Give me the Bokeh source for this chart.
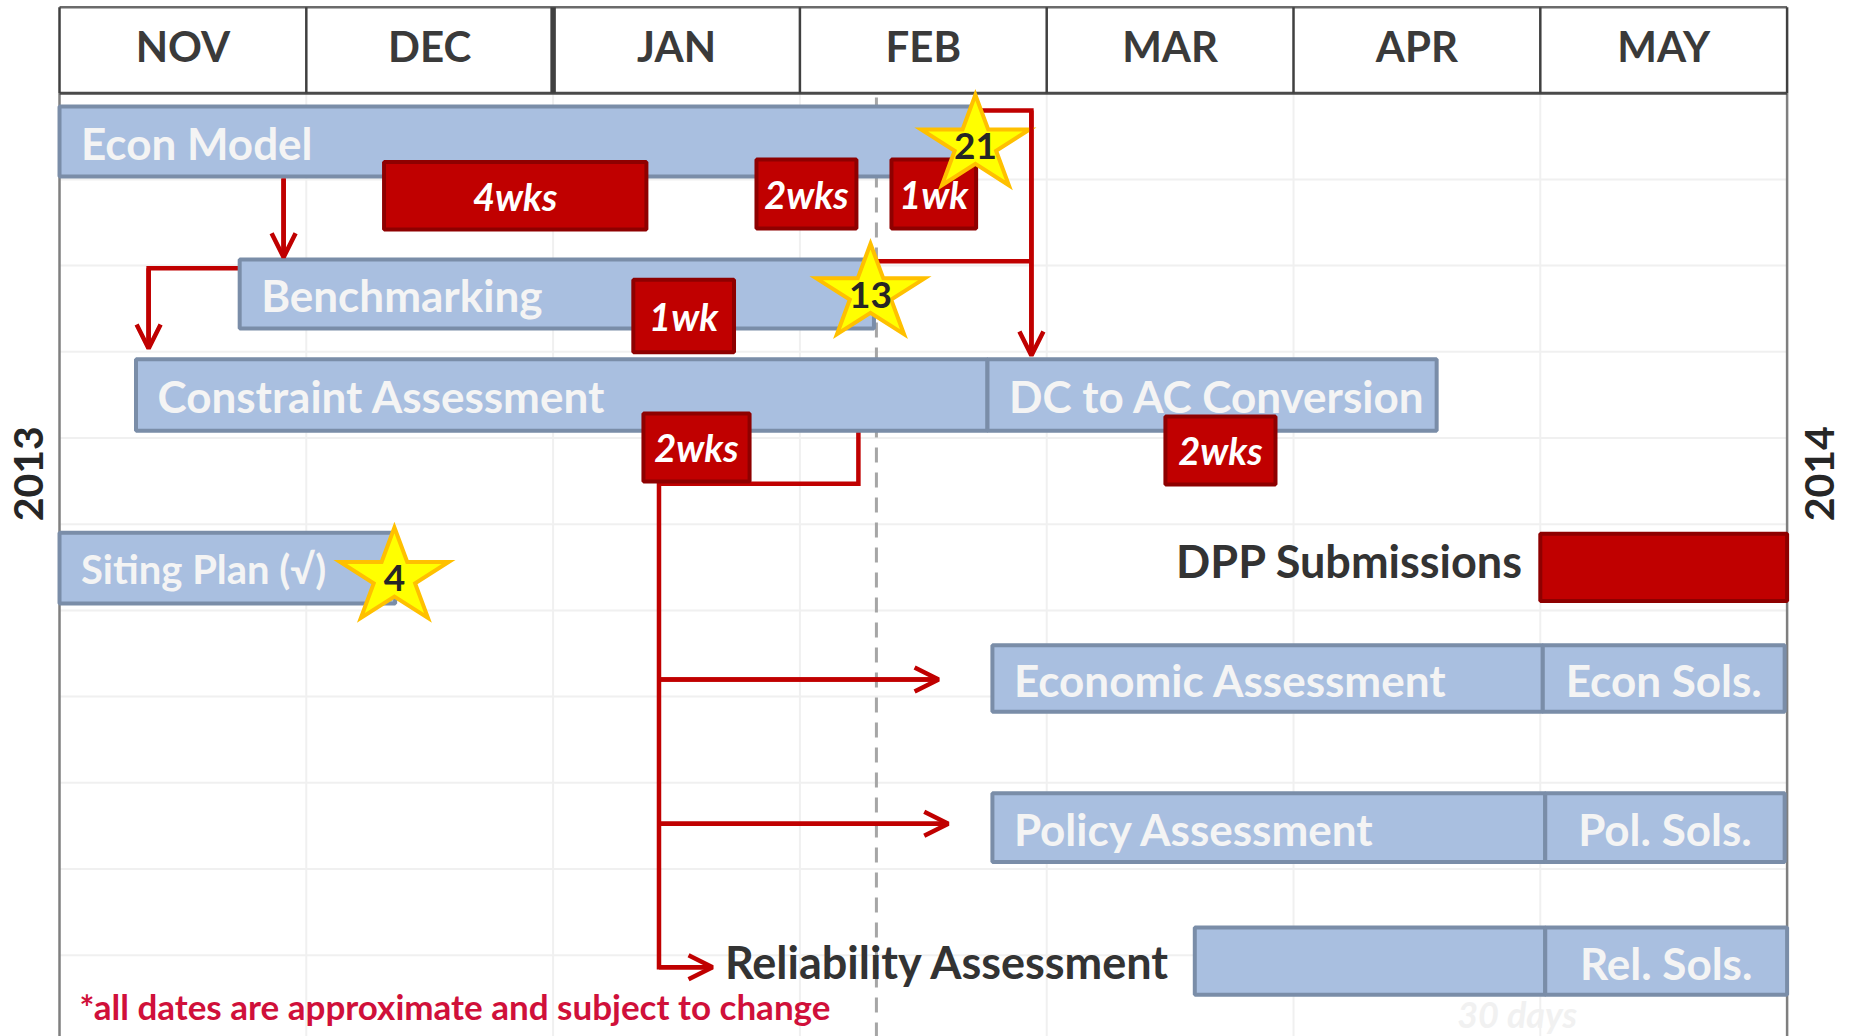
import numpy as np
from bokeh.plotting import figure
from bokeh.models import Range1d, Arrow, OpenHead, ColumnDataSource
from bokeh.core.properties import value
from bokeh.embed import file_html
from bokeh.resources import INLINE

# ---------------- data (x: months from 1 Nov 2013, y: rows below header) ----------------
months = ["NOV", "DEC", "JAN", "FEB", "MAR", "APR", "MAY"]
years = ["2013", "2014"]

task_names = ["Econ Model", "Benchmarking", "Constraint Assessment", "DC to AC Conversion",
              "Siting Plan (\u221a)", "Economic Assessment", "Econ Sols.",
              "Policy Assessment", "Pol. Sols.", "", "Rel. Sols."]
task_start = [0.0, 0.73, 0.31, 3.76, 0.0, 3.78, 6.01, 3.78, 6.02, 4.60, 6.02]
task_end = [3.69, 3.30, 3.76, 5.58, 1.36, 6.01, 6.99, 6.02, 6.99, 6.02, 7.0]
task_row = [0.56, 2.33, 3.50, 3.50, 5.51, 6.79, 6.79, 8.52, 8.52, 10.07, 10.07]
task_height = [0.81, 0.80, 0.83, 0.83, 0.82, 0.77, 0.77, 0.80, 0.80, 0.78, 0.78]
task_align = ["left", "left", "left", "left", "left", "left", "center",
              "left", "center", "left", "center"]
task_font = ["44px", "44px", "44px", "44px", "40px", "44px", "44px",
             "44px", "44px", "44px", "44px"]

box_labels = ["4wks", "2wks", "1wk", "1wk", "2wks", "2wks", ""]
box_start = [1.315, 2.824, 3.371, 2.325, 2.366, 4.481, 6.0]
box_end = [2.378, 3.229, 3.714, 2.733, 2.796, 4.927, 7.0]
box_row = [1.19, 1.17, 1.17, 2.585, 4.11, 4.145, 5.50]
box_height = [0.785, 0.80, 0.80, 0.84, 0.79, 0.79, 0.78]

star_labels = ["21", "13", "4"]
star_x = [3.711, 3.286, 1.357]
star_row = [0.599, 2.327, 5.618]

dark_labels = ["DPP Submissions", "Reliability Assessment"]
dark_x = [5.931, 2.696]
dark_row = [5.43, 10.08]
dark_align = ["right", "left"]

today = 3.31
note = "*all dates are approximate and subject to change"

# connector paths (month, row)
path_x = [[0.908, 0.908], [0.729, 0.361, 0.361], [3.711, 3.938, 3.938], [3.310, 3.938],
          [3.237, 3.237, 2.429], [2.429, 2.429, 2.646], [2.429, 3.562], [2.429, 3.601]]
path_y = [[0.99, 1.903], [2.030, 2.030, 2.962], [0.201, 0.201, 3.043], [1.949, 1.949],
          [3.93, 4.53, 4.53], [4.50, 10.139, 10.139], [6.802, 6.802], [8.476, 8.476]]
arrow_paths = [0, 1, 2, 5, 6, 7]

# ---------------- figure ----------------
W, H = 1849, 1036
x0, x1 = -0.2391, 7.2528
ytop, ybot = -1.0754, 10.9432
p = figure(width=W, height=H, output_backend="svg", toolbar_location=None,
           x_range=Range1d(x0, x1), y_range=Range1d(ybot, ytop),
           x_axis_location=None, y_axis_location=None, min_border=0)
p.min_border_left = p.min_border_right = p.min_border_top = p.min_border_bottom = 0
p.outline_line_color = None
p.grid.visible = False
p.background_fill_color = "white"

px_x = (x1 - x0) / W
px_y = (ybot - ytop) / H

FONT = value("Lato")
BLUE, BLUE_EDGE = "#A9BFE0", "#7A8DA8"
RED, RED_EDGE = "#C00000", "#8E0000"

# light grid
nm = len(months)
p.multi_line(xs=[[m, m] for m in range(1, nm)], ys=[[0, ybot]] * (nm - 1),
             line_color="#F0F0F0", line_width=2)
p.multi_line(xs=[[0, nm]] * 10, ys=[[r, r] for r in range(1, 11)],
             line_color="#F0F0F0", line_width=2)

# today line
p.line([today, today], [0.05, ybot], line_color="#A6A6A6", line_width=3, line_dash="15 10")

# outer border body
p.multi_line(xs=[[0, 0], [nm, nm]], ys=[[0, ybot], [0, ybot]], line_color="#7F7F7F", line_width=2.5)

# header
htop = -0.998
p.line([0, nm], [htop, htop], line_color="#6B6B6B", line_width=2.5)
p.line([0, nm], [0, 0], line_color="#4A4A4A", line_width=3)
p.multi_line(xs=[[m, m] for m in range(0, nm + 1)], ys=[[htop, 0]] * (nm + 1),
             line_color="#404040", line_width=[2.5 if m != 2 else 5.5 for m in range(nm + 1)])
p.text(x=[m + 0.5 for m in range(nm)], y=[-0.542] * nm, text=months,
       text_font=FONT, text_font_style="bold", text_font_size=value("42px"),
       text_color="#3A3A3A", text_align="center", text_baseline="middle")

# connectors
p.multi_line(xs=path_x, ys=path_y, line_color=RED, line_width=4.5, line_join="miter")
asrc = ColumnDataSource(dict(
    xs=[path_x[i][-2] for i in arrow_paths], ys=[path_y[i][-2] for i in arrow_paths],
    xe=[path_x[i][-1] for i in arrow_paths], ye=[path_y[i][-1] for i in arrow_paths]))
p.add_layout(Arrow(source=asrc, x_start="xs", y_start="ys", x_end="xe", y_end="ye",
                   line_color=RED, line_width=4.5,
                   end=OpenHead(size=24, line_color=RED, line_width=4.5)))

# blue task bars
tsrc = ColumnDataSource(dict(
    left=task_start, right=task_end,
    top=[r - h / 2 for r, h in zip(task_row, task_height)],
    bottom=[r + h / 2 for r, h in zip(task_row, task_height)]))
p.quad(left="left", right="right", top="top", bottom="bottom", source=tsrc,
       fill_color=BLUE, line_color=BLUE_EDGE, line_width=4)

lsrc = ColumnDataSource(dict(
    x=[s + 0.087 if a == "left" else (s + e) / 2 for s, e, a in zip(task_start, task_end, task_align)],
    y=[r + 0.015 for r in task_row], text=task_names, align=task_align, size=task_font))
p.text(x="x", y="y", text="text", text_align="align", text_font_size="size", source=lsrc,
       text_font=FONT, text_font_style="bold", text_color="#F4F4F4", text_baseline="middle")

# red boxes
bsrc = ColumnDataSource(dict(
    left=box_start, right=box_end,
    top=[r - h / 2 for r, h in zip(box_row, box_height)],
    bottom=[r + h / 2 for r, h in zip(box_row, box_height)]))
p.quad(left="left", right="right", top="top", bottom="bottom", source=bsrc,
       fill_color=RED, line_color=RED_EDGE, line_width=4)
p.text(x=[(s + e) / 2 for s, e in zip(box_start, box_end)], y=box_row, text=box_labels,
       text_font=FONT, text_font_style="bold italic", text_font_size=value("38px"),
       text_color="white", text_align="center", text_baseline="middle")

# dark labels
p.text(x=dark_x, y=dark_row, text=dark_labels, text_align=dark_align,
       text_font=FONT, text_font_style="bold", text_font_size=value("45px"),
       text_color="#333333", text_baseline="middle")

# stars
rx, ry = 57 * px_x, 50 * px_y
ang = np.deg2rad(-90 + 36 * np.arange(10))
k = np.where(np.arange(10) % 2 == 0, 1.0, 0.382)
sx = [list(cx + rx * k * np.cos(ang)) for cx in star_x]
sy = [list(cy + ry * k * np.sin(ang)) for cy in star_row]
p.patches(xs=sx, ys=sy, fill_color="#FFFF00", line_color="#FFC000", line_width=4,
          line_join="miter")
p.text(x=star_x, y=[r + 0.01 for r in star_row], text=star_labels,
       text_font=FONT, text_font_style="bold", text_font_size=value("37px"),
       text_color="#262626", text_align="center", text_baseline="middle")

# years
p.text(x=[-0.127, 7.130], y=[4.415, 4.415], text=years, angle=np.pi / 2,
       text_font=FONT, text_font_style="bold", text_font_size=value("41px"),
       text_color="#262626", text_align="center", text_baseline="middle")

# footnote and faint text
p.text(x=[0.081], y=[10.595], text=[note], text_font=FONT, text_font_style="bold",
       text_font_size=value("35px"), text_color="#D0103A", text_align="left",
       text_baseline="middle")
p.text(x=[5.906], y=[10.677], text=["30 days"], text_font=FONT,
       text_font_style="bold italic", text_font_size=value("36px"),
       text_color="#F1F1F1", text_align="center", text_baseline="middle")

open("out.html", "w").write(file_html(p, INLINE))
